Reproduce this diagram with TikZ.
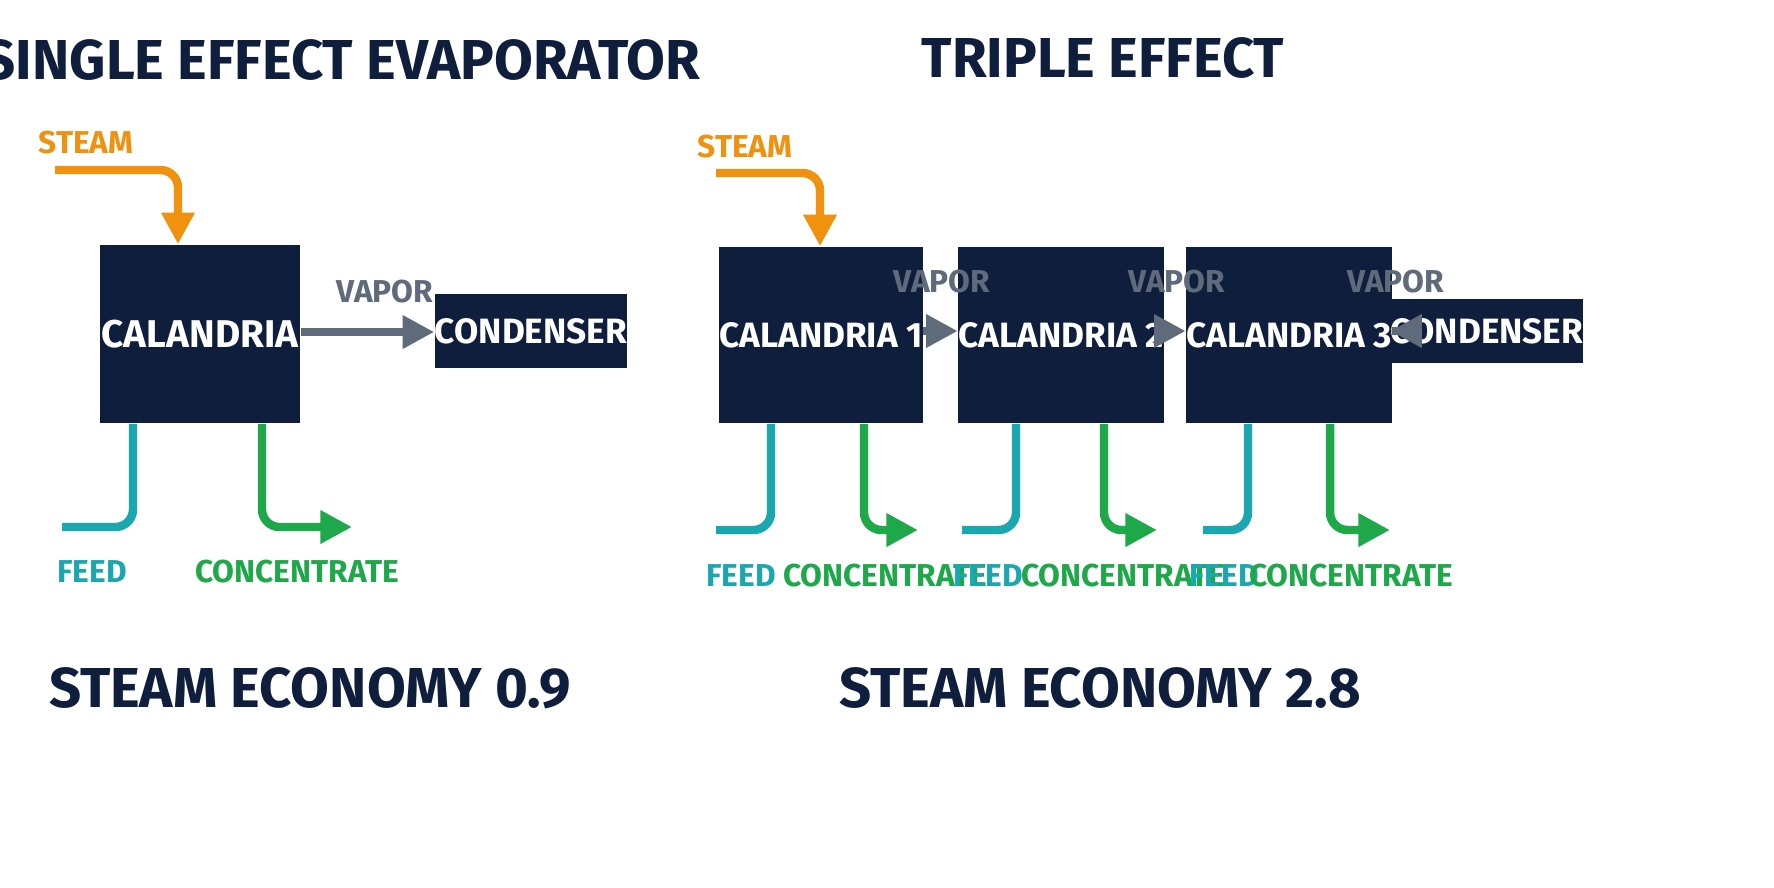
\documentclass[tikz,border=0pt]{standalone}
\usepackage{fontspec}
\setmainfont{Fira Sans}
\usetikzlibrary{positioning}
\usetikzlibrary{arrows.meta}
\definecolor{navy}{HTML}{0F1E3D}
\definecolor{steamc}{HTML}{F0920F}
\definecolor{feedc}{HTML}{1AA7B0}
\definecolor{concc}{HTML}{1EA84A}
\definecolor{vapc}{HTML}{5F6B7A}
\begin{document}
\begin{tikzpicture}[x=0.01cm, y=-0.01cm, >={Triangle[length=9pt,width=9pt]},
  box/.style={fill=navy, text=white, font=\bfseries\fontsize{10}{12}\selectfont, inner sep=0pt},
  title/.style={text=navy, font=\bfseries\fontsize{16}{19}\selectfont},
  lbl/.style={font=\bfseries\fontsize{9}{11}\selectfont},
  pipe/.style={line width=2.4pt, rounded corners=5pt}]
\useasboundingbox (0,0) rectangle (1774,887);
\fill[white] (0,0) rectangle (1774,887);

% single effect
\node[title] (t1) at (342,60) {SINGLE EFFECT EVAPORATOR};
\node[box, minimum width=2cm, minimum height=1.78cm, font=\bfseries\fontsize{11}{13}\selectfont] (cal) at (200,334) {CALANDRIA};
\node[box, minimum width=1.28cm, minimum height=0.73cm] (cond) at (531,331) {CONDENSER};
\node[lbl, text=steamc] (st) at (86,143) {STEAM};
\node[lbl, text=vapc] (vap) at (385,292) {VAPOR};
\node[lbl, text=feedc] (fd) at (92,572) {FEED};
\node[lbl, text=concc] (cc) at (297,572) {CONCENTRATE};
\node[title] (e1) at (310,688) {STEAM ECONOMY 0.9};
\coordinate (s0) at (55,170);
\coordinate (f0) at (62,527);
\coordinate (c0) at (352,527);
\draw[pipe, steamc, ->] (s0) -| (cal.north -| 178,0);
\draw[line width=2.4pt, vapc, ->] (cal.east |- 0,332) -- (cond.west |- 0,332);
\draw[pipe, feedc] (cal.south -| 133,0) |- (f0);
\draw[pipe, concc, ->] (cal.south -| 262,0) |- (c0);

% triple effect
\node[title] (t2) at (1103,58) {TRIPLE EFFECT};
\node[box, minimum width=1.47cm, minimum height=1.76cm] (c1) at (821,335) {CALANDRIA 1};
\node[box, minimum width=1.41cm, minimum height=1.76cm] (c2) at (1061,335) {CALANDRIA 2};
\node[box, minimum width=1.30cm, minimum height=1.76cm] (c3) at (1289,335) {CALANDRIA 3};
\node[box, minimum width=1.06cm, minimum height=0.64cm] (cond2) at (1487,331) {CONDENSER};
\node[lbl, text=steamc] (st2) at (745,147) {STEAM};
\node[title] (e2) at (1100,688) {STEAM ECONOMY 2.8};
\coordinate (s1) at (716,173);
\draw[pipe, steamc, ->] (s1) -| (c1.north -| 820,0);
\foreach \a/\b/\x in {c1/c2/942, c2/c3/1177, c3/cond2/1396}{
  \draw[line width=2.4pt, vapc, ->] (\a.east |- 0,331) -- (\b.west |- 0,331);
  \node[lbl, text=vapc] at (\x,282) {VAPOR};
}
\foreach \n/\fx/\fe/\cx/\ce/\fl/\cl in {c1/771/716/864/918/741/885, c2/1016/962/1104/1157/988/1123, c3/1248/1203/1330/1390/1224/1351}{
  \draw[pipe, feedc] (\n.south -| \fx,0) |- (\fe,530);
  \draw[pipe, concc, ->] (\n.south -| \cx,0) |- (\ce,530);
  \node[lbl, text=feedc] at (\fl,576) {FEED};
  \node[lbl, text=concc] at (\cl,576) {CONCENTRATE};
}
\end{tikzpicture}
\end{document}
